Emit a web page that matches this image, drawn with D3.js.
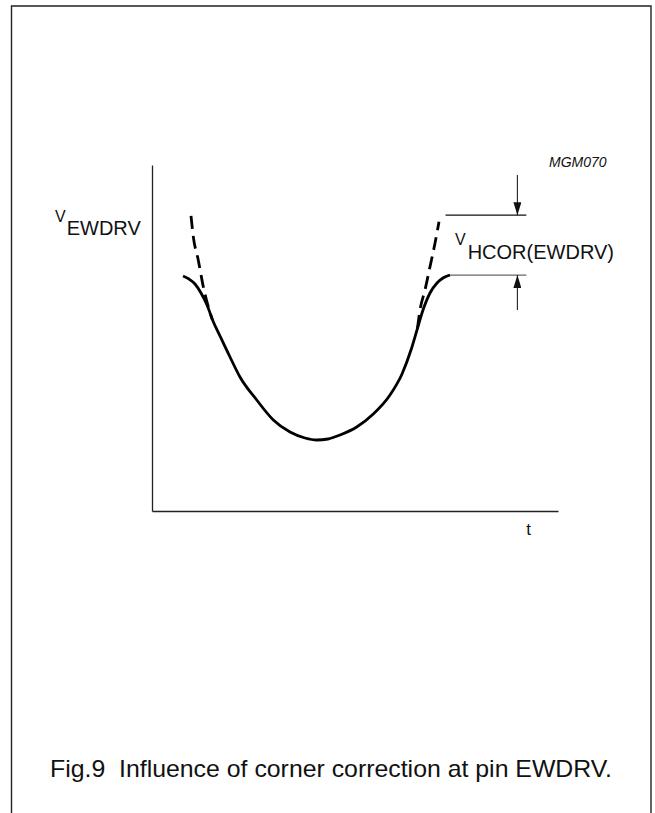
<!DOCTYPE html>
<html>
<head>
<meta charset="utf-8">
<script src="https://cdn.jsdelivr.net/npm/d3@7"></script>
<style>
  body { margin: 0; background: #fff; }
  svg { display: block; font-family: Arial, "Liberation Sans", sans-serif; }
  .axis path { stroke: #222; stroke-width: 1.3; }
</style>
</head>
<body>
<svg id="chart"></svg>
<script>
// time / voltage in arbitrary units (sketch, no ticks)
const tDomain = [0, 100];
const vDomain = [0, 100];

// EWDRV output with corner correction (solid)
const solidCurve = [
  [7.64, 67.92], [9.11, 67.05], [10.59, 65.61], [12.07, 63.01], [13.55, 59.54],
  [15.02, 54.91], [16.75, 50.58], [19.21, 44.51], [21.67, 38.73], [25.79, 32.08],
  [29.88, 26.30], [33.99, 22.83], [37.68, 21.10], [40.57, 20.52], [43.35, 20.81],
  [46.31, 21.97], [50.42, 24.28], [54.51, 28.03], [58.62, 33.53], [61.58, 39.60],
  [63.79, 46.53], [65.27, 52.31], [66.75, 58.09], [68.47, 63.01], [70.20, 65.90],
  [71.67, 67.34], [73.40, 68.21]
];

// parabola without correction (dashed)
const dashLeft = [[9.61, 85.3], [10.17, 79.3], [11.40, 72.5], [12.64, 64.8], [13.87, 59.0], [14.85, 55.3]];
const dashRight = [[65.39, 52.89], [66.01, 58.09], [67.24, 63.87], [68.47, 70.61], [69.70, 77.37], [70.69, 83.61]];

// V_HCOR(EWDRV) annotation levels
const hcorTop = 85.5;
const hcorBottom = 68.2;
const hcorTopSpan = [72.3, 92.2];
const hcorBottomSpan = [73.4, 92.2];
const arrowT = 90;
const arrowDownFrom = 97.1;
const arrowUpFrom = 58.1;

const yLabel = ['V', 'EWDRV'];
const hcorLabel = ['V', 'HCOR(EWDRV)'];
const xLabel = 't';
const figCode = 'MGM070';
const caption = 'Fig.9  Influence of corner correction at pin EWDRV.';

class CornerChart {
  constructor(_config) {
    this.config = {
      parentElement: _config.parentElement,
      containerWidth: _config.containerWidth || 655,
      containerHeight: _config.containerHeight || 813,
      margin: _config.margin || {top: 165, right: 97, bottom: 302, left: 152}
    };
    this.initVis();
  }

  initVis() {
    let vis = this;
    vis.width = vis.config.containerWidth - vis.config.margin.left - vis.config.margin.right;
    vis.height = vis.config.containerHeight - vis.config.margin.top - vis.config.margin.bottom;

    vis.xScale = d3.scaleLinear().domain(tDomain).range([0, vis.width]);
    vis.yScale = d3.scaleLinear().domain(vDomain).range([vis.height, 0]);

    vis.xAxis = d3.axisBottom(vis.xScale).ticks(0).tickSizeOuter(0);
    vis.yAxis = d3.axisLeft(vis.yScale).ticks(0).tickSizeOuter(0);

    vis.svg = d3.select(vis.config.parentElement)
        .attr('width', vis.config.containerWidth)
        .attr('height', vis.config.containerHeight);

    // page frame, open at the bottom
    vis.svg.append('path')
        .attr('d', `M11.5,${vis.config.containerHeight} V6 H651 V${vis.config.containerHeight}`)
        .attr('fill', 'none')
        .attr('stroke', '#222')
        .attr('stroke-width', 1.4);

    vis.svg.append('defs').append('marker')
        .attr('id', 'head')
        .attr('viewBox', '0 0 13 8')
        .attr('refX', 13).attr('refY', 4)
        .attr('markerWidth', 13).attr('markerHeight', 8)
        .attr('markerUnits', 'userSpaceOnUse')
        .attr('orient', 'auto')
      .append('path')
        .attr('d', 'M0,0 L13,4 L0,8 Z')
        .attr('fill', '#111');

    vis.chart = vis.svg.append('g')
        .attr('transform', `translate(${vis.config.margin.left},${vis.config.margin.top})`);

    vis.xAxisG = vis.chart.append('g')
        .attr('class', 'axis x-axis')
        .attr('transform', `translate(0,${vis.height})`);
    vis.yAxisG = vis.chart.append('g')
        .attr('class', 'axis y-axis');

    // texts
    let yl = vis.svg.append('text').attr('x', 55).attr('y', 222).attr('fill', '#111');
    yl.append('tspan').attr('font-size', 16).text(yLabel[0]);
    yl.append('tspan').attr('font-size', 20).attr('dx', 1).attr('dy', 13).text(yLabel[1]);

    let hl = vis.svg.append('text').attr('x', 455).attr('y', 245).attr('fill', '#111');
    hl.append('tspan').attr('font-size', 16).text(hcorLabel[0]);
    hl.append('tspan').attr('font-size', 20).attr('dx', 2).attr('dy', 14).text(hcorLabel[1]);

    vis.svg.append('text')
        .attr('x', 528.7).attr('y', 535)
        .attr('text-anchor', 'middle')
        .attr('font-size', 17)
        .attr('fill', '#111')
        .text(xLabel);

    vis.svg.append('text')
        .attr('x', 549).attr('y', 167)
        .attr('font-size', 14)
        .attr('font-style', 'italic')
        .attr('fill', '#111')
        .text(figCode);

    vis.svg.append('text')
        .attr('x', 50).attr('y', 777)
        .attr('font-size', 24)
        .attr('textLength', 562)
        .attr('lengthAdjust', 'spacingAndGlyphs')
        .attr('fill', '#111')
        .style('white-space', 'pre')
        .text(caption);
  }

  renderVis() {
    let vis = this;

    vis.xAxisG.call(vis.xAxis);
    vis.yAxisG.call(vis.yAxis);

    const line = d3.line()
        .x(d => vis.xScale(d[0]))
        .y(d => vis.yScale(d[1]))
        .curve(d3.curveMonotoneX);

    vis.chart.append('path')
        .datum(solidCurve)
        .attr('d', line)
        .attr('fill', 'none')
        .attr('stroke', '#000')
        .attr('stroke-width', 2.8);

    vis.chart.selectAll('.dashed')
        .data([dashLeft, dashRight])
        .enter()
      .append('path')
        .attr('class', 'dashed')
        .attr('d', line)
        .attr('fill', 'none')
        .attr('stroke', '#000')
        .attr('stroke-width', 2.8)
        .attr('stroke-dasharray', '13,7');

    // level lines
    vis.chart.selectAll('.level')
        .data([[hcorTopSpan, hcorTop, '#111'], [hcorBottomSpan, hcorBottom, '#666']])
        .enter()
      .append('line')
        .attr('class', 'level')
        .attr('x1', d => vis.xScale(d[0][0]))
        .attr('x2', d => vis.xScale(d[0][1]))
        .attr('y1', d => vis.yScale(d[1]))
        .attr('y2', d => vis.yScale(d[1]))
        .attr('stroke', d => d[2])
        .attr('stroke-width', 1.3);

    // arrows pointing to the levels
    vis.chart.selectAll('.arrow')
        .data([[arrowDownFrom, hcorTop], [arrowUpFrom, hcorBottom]])
        .enter()
      .append('line')
        .attr('class', 'arrow')
        .attr('x1', vis.xScale(arrowT))
        .attr('x2', vis.xScale(arrowT))
        .attr('y1', d => vis.yScale(d[0]))
        .attr('y2', d => vis.yScale(d[1]))
        .attr('stroke', '#222')
        .attr('stroke-width', 1.1)
        .attr('marker-end', 'url(#head)');
  }
}

const chart = new CornerChart({parentElement: '#chart'});
chart.renderVis();
</script>
</body>
</html>
